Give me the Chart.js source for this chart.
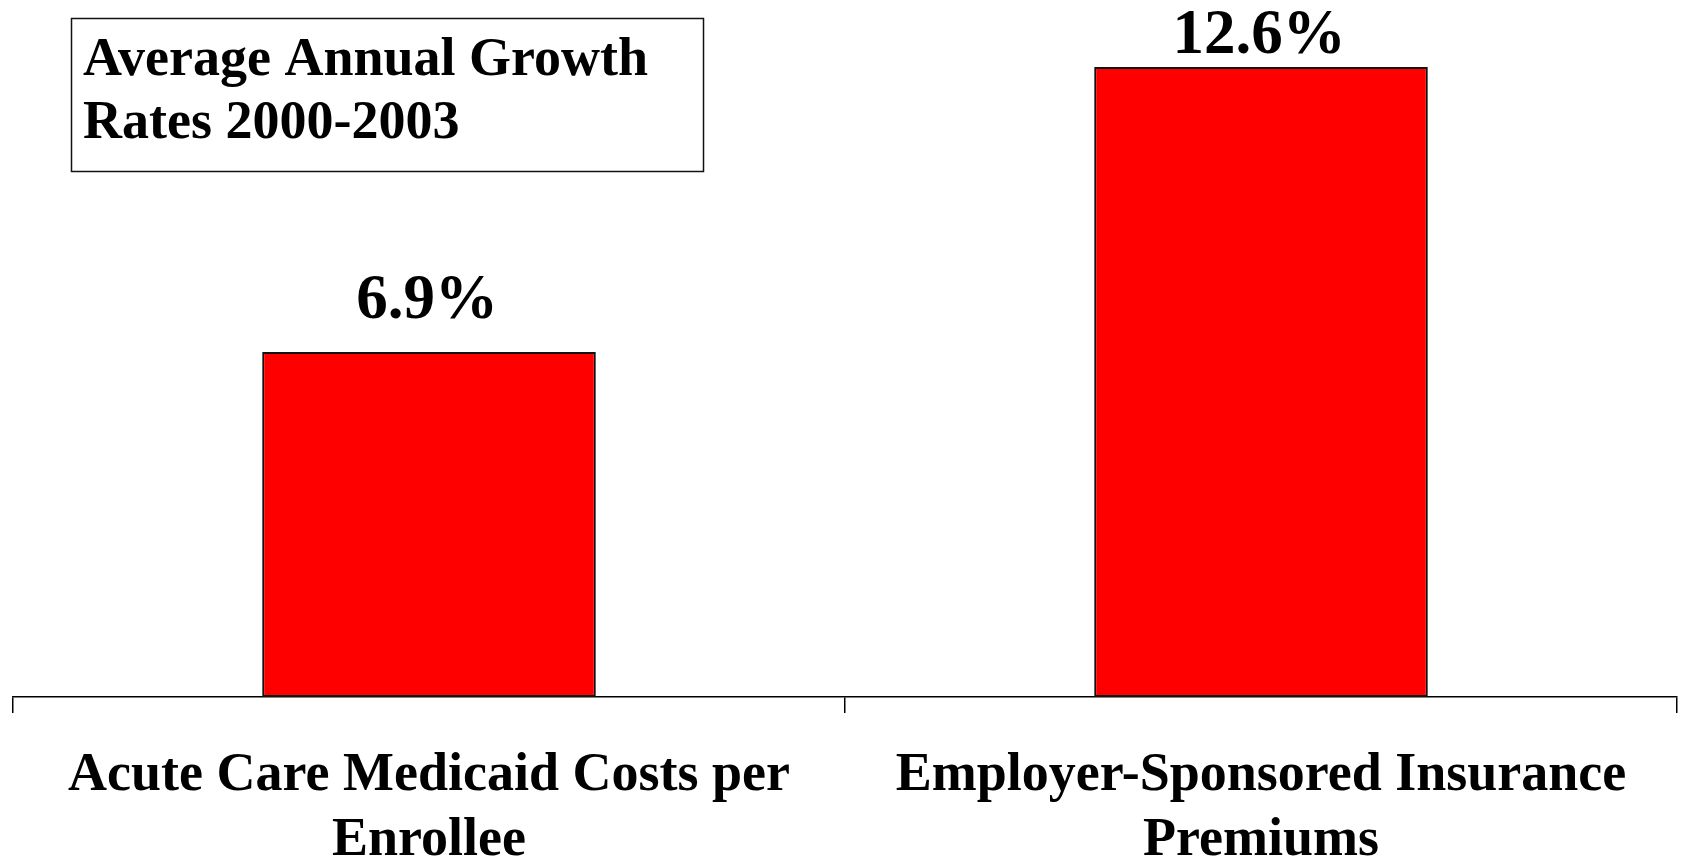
<!DOCTYPE html>
<html>
<head>
<meta charset="utf-8">
<script src="https://cdn.jsdelivr.net/npm/chart.js@4/dist/chart.umd.min.js"></script>
<style>
  html, body { margin: 0; padding: 0; background: #fff; }
  #wrap { width: 1681px; height: 861px; }
</style>
</head>
<body>
<div id="wrap"><canvas id="chart" width="1681" height="861"></canvas></div>
<script>
// Category names (multi-line labels under the axis)
const categories = [
  ['Acute Care Medicaid Costs per', 'Enrollee'],
  ['Employer-Sponsored Insurance', 'Premiums']
];
// Average annual growth, percent
const growthRates = [6.9, 12.6];
// Text shown above each bar
const valueLabels = growthRates.map(v => v.toFixed(1) + '%');
// Boxed caption in the upper left
const captionLines = ['Average Annual Growth', 'Rates 2000-2003'];

const SERIF = '"Liberation Serif", "Times New Roman", serif';

// Draws the percentage above each bar
const valueLabelPlugin = {
  id: 'valueLabels',
  afterDatasetsDraw(chart) {
    const ctx = chart.ctx;
    const meta = chart.getDatasetMeta(0);
    ctx.save();
    ctx.font = 'bold 63px ' + SERIF;
    ctx.fillStyle = '#000';
    ctx.textAlign = 'center';
    ctx.textBaseline = 'alphabetic';
    meta.data.forEach((bar, i) => {
      const y = Math.max(bar.y - 34, 53);
      ctx.fillText(valueLabels[i], bar.x - 2, y);
    });
    ctx.restore();
  }
};

// Draws the boxed caption
const captionPlugin = {
  id: 'caption',
  afterDraw(chart) {
    const ctx = chart.ctx;
    ctx.save();
    ctx.strokeStyle = '#111';
    ctx.lineWidth = 1.5;
    ctx.strokeRect(71.5, 18.5, 632, 153);
    ctx.font = 'bold 54px ' + SERIF;
    ctx.fillStyle = '#000';
    ctx.textAlign = 'left';
    ctx.textBaseline = 'alphabetic';
    captionLines.forEach((line, i) => {
      ctx.fillText(line, 83, 75 + i * 63);
    });
    ctx.restore();
  }
};

new Chart(document.getElementById('chart'), {
  type: 'bar',
  data: {
    labels: categories,
    datasets: [{
      data: growthRates,
      backgroundColor: '#ff0000',
      borderColor: '#111',
      borderWidth: 2,
      borderSkipped: false,
      categoryPercentage: 1,
      barPercentage: 0.401
    }]
  },
  options: {
    responsive: false,
    animation: false,
    layout: { padding: { top: 47, left: 13, right: 4, bottom: 0 } },
    plugins: {
      legend: { display: false },
      tooltip: { enabled: false },
      title: { display: false }
    },
    scales: {
      x: {
        offset: true,
        grid: {
          offset: true,
          drawOnChartArea: false,
          drawTicks: true,
          tickLength: 16,
          color: '#000',
          lineWidth: 1.5
        },
        border: { display: true, color: '#000', width: 1.5 },
        ticks: {
          color: '#000',
          font: { family: SERIF, size: 54, weight: 'bold', lineHeight: 65 / 54 },
          padding: 31,
          maxRotation: 0,
          autoSkip: false
        },
        afterFit(scale) { scale.height = 164; }
      },
      y: {
        display: false,
        min: 0,
        max: 13
      }
    }
  },
  plugins: [valueLabelPlugin, captionPlugin]
});
</script>
</body>
</html>
